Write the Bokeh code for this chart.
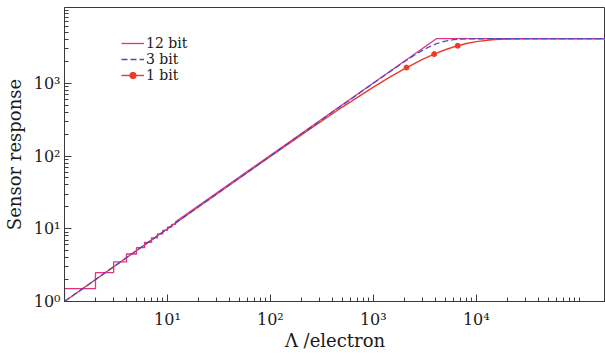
from bokeh.plotting import figure
from bokeh.models import FixedTicker, CustomJSTickFormatter, Legend, LegendItem, Range1d
from bokeh.embed import file_html
from bokeh.resources import INLINE

# ---- data ----
# 12 bit: quantised (staircase) at low flux, linear, then clipped at full scale
lam_12 = [0.9, 1, 1, 2, 2, 3, 3, 4, 4, 5, 5, 6, 6, 7, 7, 8, 8, 9, 9, 10, 10, 11, 11, 12, 12,
          4095, 200000]
resp_12 = [0.5, 0.5, 1.5, 1.5, 2.5, 2.5, 3.5, 3.5, 4.5, 4.5, 5.5, 5.5, 6.5, 6.5, 7.5, 7.5, 8.5,
           8.5, 9.5, 9.5, 10.5, 10.5, 11.5, 11.5, 12.5, 4095, 4095]

# 3 bit
lam_3 = [1, 10, 100, 1000, 2000, 2500, 3000, 3500, 4000, 4500, 5000, 6000, 7000, 8000,
         10000, 20000, 200000]
resp_3 = [1, 10, 100, 999, 1979, 2430, 2834, 3172, 3441, 3647, 3797, 3974, 4049, 4078,
          4093, 4095, 4095]

# 1 bit
lam_1 = [1, 10, 100, 200, 500, 1000, 1500, 2000, 3000, 4000, 5000, 6000, 8000, 10000,
         15000, 20000, 30000, 200000]
resp_1 = [1, 10, 98.8, 195, 471, 887, 1256, 1582, 2127, 2553, 2888, 3149, 3515, 3739,
          3990, 4064, 4092, 4095]
lam_1_markers = [2100, 3900, 6600]
resp_1_markers = [1643, 2515, 3278]

x_major = [10, 100, 1000, 10000]
y_major = [1, 10, 100, 1000]
series_labels = ["12 bit", "3 bit", "1 bit"]

PINK = "#e2337f"
BLUE = "#4b4bc4"
RED = "#ec3b2c"
INK = "#3a3a3a"
FONT = "DejaVu Serif"

p = figure(width=605, height=353, x_axis_type="log", y_axis_type="log",
           x_range=Range1d(1, 1.8e5), y_range=Range1d(1, 1.1e4),
           output_backend="svg", toolbar_location=None,
           min_border_left=63, min_border_right=0, min_border_top=7, min_border_bottom=52,
           background_fill_color="white", border_fill_color="white")
p.xgrid.visible = False
p.ygrid.visible = False
p.outline_line_color = INK
p.outline_line_width = 1

r1 = p.line(lam_1, resp_1, line_color=RED, line_width=1.4)
r1m = p.scatter(lam_1_markers, resp_1_markers, marker="circle", size=5,
                fill_color=RED, line_color=RED)
r12 = p.line(lam_12, resp_12, line_color=PINK, line_width=1.3)
r3 = p.line(lam_3, resp_3, line_color=BLUE, line_width=1.3, line_dash="6 3")

fmt = CustomJSTickFormatter(code="""
const sup = {'-':'\u207b','0':'\u2070','1':'\u00b9','2':'\u00b2','3':'\u00b3','4':'\u2074',
             '5':'\u2075','6':'\u2076','7':'\u2077','8':'\u2078','9':'\u2079'};
const e = Math.round(Math.log10(tick));
return '10' + String(e).split('').map(c => sup[c]).join('');
""")

x_minor = [m * 10 ** d for d in range(0, 6) for m in range(1, 10) if m * 10 ** d <= 1.8e5]
y_minor = [m * 10 ** d for d in range(0, 5) for m in range(1, 10) if m * 10 ** d <= 1.1e4]

xa = p.xaxis[0]
ya = p.yaxis[0]
xa.ticker = FixedTicker(ticks=x_major, minor_ticks=x_minor)
ya.ticker = FixedTicker(ticks=y_major, minor_ticks=y_minor)
for ax in (xa, ya):
    ax.formatter = fmt
    ax.axis_line_color = INK
    ax.major_tick_line_color = INK
    ax.minor_tick_line_color = INK
    ax.major_tick_in = 7
    ax.major_tick_out = 0
    ax.minor_tick_in = 4
    ax.minor_tick_out = 0
    ax.major_label_text_font = FONT
    ax.major_label_text_font_size = "16px"
    ax.major_label_text_color = "#1a1a1a"
    ax.axis_label_text_font = FONT
    ax.axis_label_text_font_size = "18px"
    ax.axis_label_text_font_style = "normal"
    ax.axis_label_text_color = "#1a1a1a"

xa.axis_label = "\u039b /electron"
ya.axis_label = "Sensor response"
xa.major_label_standoff = 8
xa.axis_label_standoff = -2
ya.major_label_standoff = 4
ya.axis_label_standoff = 6

legend = Legend(items=[LegendItem(label=series_labels[0], renderers=[r12]),
                       LegendItem(label=series_labels[1], renderers=[r3]),
                       LegendItem(label=series_labels[2], renderers=[r1, r1m])],
                location=(57, 218))
legend.label_text_font = FONT
legend.label_text_font_size = "14px"
legend.label_text_color = "#1a1a1a"
legend.glyph_width = 23
legend.glyph_height = 16
legend.label_height = 16
legend.spacing = 0
legend.padding = 0
legend.margin = 0
legend.label_standoff = 2
legend.border_line_alpha = 0
legend.background_fill_alpha = 0
p.add_layout(legend)

open("out.html", "w").write(file_html(p, INLINE))
